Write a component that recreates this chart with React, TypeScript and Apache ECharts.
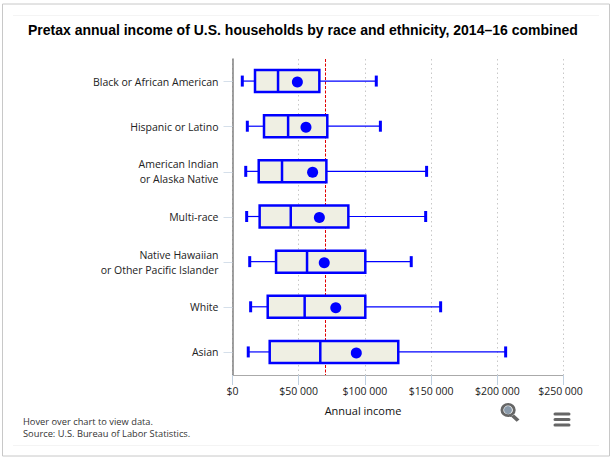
import React, { useEffect, useRef } from "react";
import * as echarts from "echarts";

const categories = [
  "Black or African American",
  "Hispanic or Latino",
  "American Indian\nor Alaska Native",
  "Multi-race",
  "Native Hawaiian\nor Other Pacific Islander",
  "White",
  "Asian",
];
const lowValues = [7400, 11200, 10000, 10700, 13000, 13700, 11900];
const q1Values = [17000, 23800, 19800, 20500, 32900, 26600, 28100];
const medianValues = [34400, 42000, 37400, 44000, 56300, 54500, 66300];
const q3Values = [65600, 71600, 70900, 87500, 100300, 100300, 125200];
const highValues = [108600, 111700, 146600, 145900, 135000, 157200, 206300];
const meanValues = [49000, 55500, 60500, 65600, 69300, 78000, 93500];
const overallMedian = 70000;
const axisMax = 250000;

const BLUE = "#0000ff";
const FONT = "'Open Sans', 'DejaVu Sans', sans-serif";

const formatMoney = (v: number) => {
  const s = "$" + (v === 0 ? "0" : String(v / 1000) + " 000");
  return v === axisMax ? "{last|" + s + "}" : s;
};

echarts.graphic.registerShape(
  "zoomIcon",
  echarts.graphic.extendPath(
    "M8 0a8 8 0 1 0 0 16a8 8 0 0 0 0-16zM8 3a5 5 0 1 1 0 10a5 5 0 0 1 0-10zM14 13l6 6l-3 2.5l-6-6z",
    {}
  )
);

const renderBox = (_: any, api: any) => {
  const i = api.value(0);
  const pt = (v: number) => api.coord([v, i]);
  const cy = pt(api.value(1))[1] - 0.5;
  const low = pt(api.value(1))[0];
  const q1 = pt(api.value(2))[0];
  const med = pt(api.value(3))[0];
  const q3 = pt(api.value(4))[0];
  const high = pt(api.value(5))[0];
  const half = 11;
  const thin = { stroke: BLUE, lineWidth: 1.2, fill: "none" };
  return {
    type: "group",
    children: [
      { type: "line", shape: { x1: low, y1: cy, x2: q1, y2: cy }, style: thin },
      { type: "line", shape: { x1: q3, y1: cy, x2: high, y2: cy }, style: thin },
      { type: "line", shape: { x1: low, y1: cy - 5.5, x2: low, y2: cy + 5.5 }, style: { stroke: BLUE, lineWidth: 3 } },
      { type: "line", shape: { x1: high, y1: cy - 5.5, x2: high, y2: cy + 5.5 }, style: { stroke: BLUE, lineWidth: 3 } },
      { type: "rect", shape: { x: q1, y: cy - half, width: q3 - q1, height: half * 2 }, style: { fill: "#efefe3", stroke: BLUE, lineWidth: 2.5 } },
      { type: "line", shape: { x1: med, y1: cy - half, x2: med, y2: cy + half }, style: { stroke: BLUE, lineWidth: 2.5 } },
    ],
  };
};

export default function App() {
  const ref = useRef<HTMLDivElement>(null);
  useEffect(() => {
    const chart = echarts.init(ref.current!, undefined, { renderer: "svg" });
    chart.setOption({
      animation: false,
      backgroundColor: "#ffffff",
      textStyle: { fontFamily: FONT },
      title: {
        text: "Pretax annual income of U.S. households by race and ethnicity, 2014–16 combined",
        left: 28,
        top: 23,
        padding: 0,
        textStyle: {
          fontFamily: "'Liberation Sans', Arial, sans-serif",
          fontSize: 14,
          fontWeight: "bold",
          color: "#000000",
        },
      },
      grid: { left: 232.5, right: 46.5, top: 59, bottom: 82, containLabel: false },
      xAxis: {
        type: "value",
        min: 0,
        max: axisMax,
        interval: 50000,
        axisLine: { show: true, lineStyle: { color: "#aaaaaa", width: 1 } },
        axisTick: { show: true, length: 10, lineStyle: { color: "#c0d0e0" } },
        axisLabel: {
          formatter: formatMoney,
          fontSize: 10.5,
          color: "#222222",
          margin: 10,
          rich: { last: { fontSize: 10.5, color: "#222222", padding: [0, 6, 0, 0] } },
        },
        splitLine: { show: true, lineStyle: { color: "#c8c8c8", type: [1.5, 3], width: 1 } },
      },
      yAxis: {
        type: "category",
        data: categories,
        inverse: true,
        axisLine: { show: true, onZero: false, lineStyle: { color: "#808080", width: 1.5 } },
        axisTick: { show: true, alignWithLabel: true, length: 9, lineStyle: { color: "#d5dfea", width: 1 } },
        axisLabel: {
          fontSize: 10.5,
          lineHeight: 15,
          color: "#222222",
          margin: 14,
          align: "right",
          padding: [4, 0, 0, 0],
        },
        splitLine: { show: false },
      },
      series: [
        {
          type: "custom",
          name: "Income",
          renderItem: renderBox,
          encode: { x: [1, 2, 3, 4, 5], y: 0 },
          data: categories.map((_, i) => [
            i,
            lowValues[i],
            q1Values[i],
            medianValues[i],
            q3Values[i],
            highValues[i],
          ]),
          z: 3,
          markLine: {
            silent: true,
            symbol: "none",
            label: { show: false },
            lineStyle: { color: "#e00000", type: [3, 1.5], width: 1 },
            data: [{ xAxis: overallMedian }],
            z: 2,
          },
        },
        {
          type: "scatter",
          name: "Mean",
          data: meanValues.map((v, i) => [v, i]),
          symbol: "circle",
          symbolSize: 11,
          symbolOffset: [0, 0.5],
          z: 5,
          itemStyle: { color: BLUE, opacity: 1 },
        },
      ],
      graphic: [
        { type: "rect", silent: true, shape: { x: 2.5, y: 4, width: 607, height: 452 }, style: { fill: "none", stroke: "#c8c8c8", lineWidth: 1 } },
        { type: "rect", silent: true, shape: { x: 13, y: 15, width: 586, height: 1 }, style: { fill: "#f4f4f4" } },
        { type: "rect", silent: true, shape: { x: 13, y: 445, width: 586, height: 1 }, style: { fill: "#f4f4f4" } },
        { type: "text", x: 363, y: 410, style: { text: "Annual income", font: "11px " + FONT, fill: "#111111", align: "center", verticalAlign: "middle" } },
        { type: "text", x: 23, y: 416.5, style: { text: "Hover over chart to view data.", font: "9.3px " + FONT, fill: "#333333" } },
        { type: "text", x: 23, y: 428.5, style: { text: "Source: U.S. Bureau of Labor Statistics.", font: "9.3px " + FONT, fill: "#333333" } },
        { type: "zoomIcon", x: 500.5, y: 403, scaleX: 0.95, scaleY: 0.87, style: { fill: "#666666" } },
        { type: "circle", shape: { cx: 508, cy: 410, r: 4 }, style: { fill: "#8a9aaa" } },
        { type: "rect", shape: { x: 553.5, y: 412.5, width: 17, height: 3, r: 1.5 }, style: { fill: "#666666" } },
        { type: "rect", shape: { x: 553.5, y: 418, width: 17, height: 3, r: 1.5 }, style: { fill: "#666666" } },
        { type: "rect", shape: { x: 553.5, y: 423.5, width: 17, height: 3, r: 1.5 }, style: { fill: "#666666" } },
      ],
    });
    return () => chart.dispose();
  }, []);
  return <div ref={ref} style={{ width: 610, height: 457, position: "absolute", left: 0, top: 0 }} />;
}
